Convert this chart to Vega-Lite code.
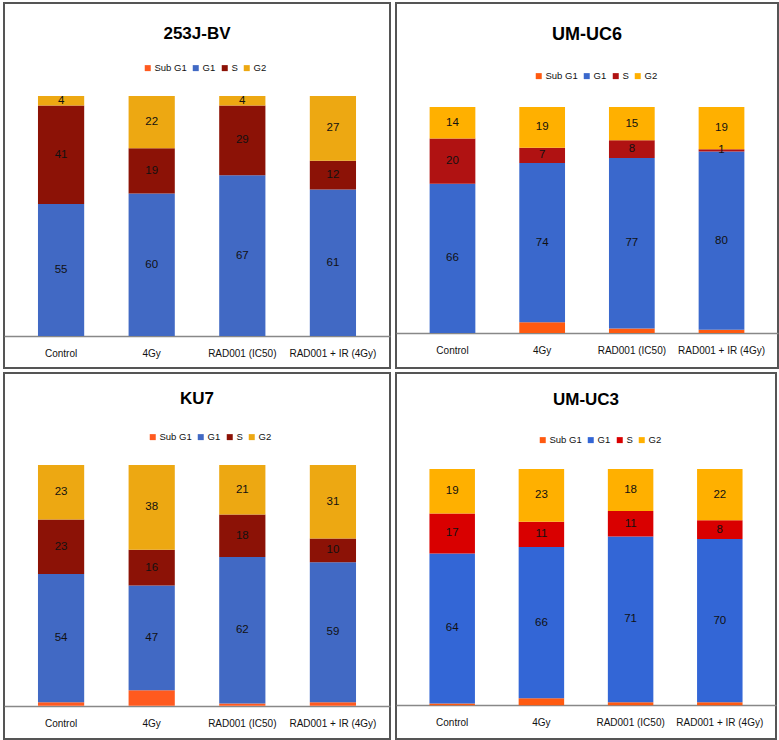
{
  "$schema": "https://vega.github.io/schema/vega-lite/v6.json",
  "background": "white",
  "padding": {"left": 3, "top": 2, "right": 0, "bottom": 0},
  "config": {
    "view": {"stroke": "#555555", "strokeWidth": 2},
    "font": "Liberation Sans, Arial, sans-serif",
    "axis": {"labelFont": "Liberation Sans, Arial, sans-serif"},
    "legend": {"labelFont": "Liberation Sans, Arial, sans-serif"}
  },
  "data": {"values": [
    {"panel": "253J-BV", "treatment": "Control", "phase": "Sub G1", "ord": 0, "value": 0},
    {"panel": "253J-BV", "treatment": "Control", "phase": "G1", "ord": 1, "value": 55},
    {"panel": "253J-BV", "treatment": "Control", "phase": "S", "ord": 2, "value": 41},
    {"panel": "253J-BV", "treatment": "Control", "phase": "G2", "ord": 3, "value": 4},
    {"panel": "253J-BV", "treatment": "4Gy", "phase": "Sub G1", "ord": 0, "value": 0},
    {"panel": "253J-BV", "treatment": "4Gy", "phase": "G1", "ord": 1, "value": 60},
    {"panel": "253J-BV", "treatment": "4Gy", "phase": "S", "ord": 2, "value": 19},
    {"panel": "253J-BV", "treatment": "4Gy", "phase": "G2", "ord": 3, "value": 22},
    {"panel": "253J-BV", "treatment": "RAD001 (IC50)", "phase": "Sub G1", "ord": 0, "value": 0},
    {"panel": "253J-BV", "treatment": "RAD001 (IC50)", "phase": "G1", "ord": 1, "value": 67},
    {"panel": "253J-BV", "treatment": "RAD001 (IC50)", "phase": "S", "ord": 2, "value": 29},
    {"panel": "253J-BV", "treatment": "RAD001 (IC50)", "phase": "G2", "ord": 3, "value": 4},
    {"panel": "253J-BV", "treatment": "RAD001 + IR (4Gy)", "phase": "Sub G1", "ord": 0, "value": 0},
    {"panel": "253J-BV", "treatment": "RAD001 + IR (4Gy)", "phase": "G1", "ord": 1, "value": 61},
    {"panel": "253J-BV", "treatment": "RAD001 + IR (4Gy)", "phase": "S", "ord": 2, "value": 12},
    {"panel": "253J-BV", "treatment": "RAD001 + IR (4Gy)", "phase": "G2", "ord": 3, "value": 27},

    {"panel": "UM-UC6", "treatment": "Control", "phase": "Sub G1", "ord": 0, "value": 0},
    {"panel": "UM-UC6", "treatment": "Control", "phase": "G1", "ord": 1, "value": 66},
    {"panel": "UM-UC6", "treatment": "Control", "phase": "S", "ord": 2, "value": 20},
    {"panel": "UM-UC6", "treatment": "Control", "phase": "G2", "ord": 3, "value": 14},
    {"panel": "UM-UC6", "treatment": "4Gy", "phase": "Sub G1", "ord": 0, "value": 5},
    {"panel": "UM-UC6", "treatment": "4Gy", "phase": "G1", "ord": 1, "value": 74},
    {"panel": "UM-UC6", "treatment": "4Gy", "phase": "S", "ord": 2, "value": 7},
    {"panel": "UM-UC6", "treatment": "4Gy", "phase": "G2", "ord": 3, "value": 19},
    {"panel": "UM-UC6", "treatment": "RAD001 (IC50)", "phase": "Sub G1", "ord": 0, "value": 2},
    {"panel": "UM-UC6", "treatment": "RAD001 (IC50)", "phase": "G1", "ord": 1, "value": 77},
    {"panel": "UM-UC6", "treatment": "RAD001 (IC50)", "phase": "S", "ord": 2, "value": 8},
    {"panel": "UM-UC6", "treatment": "RAD001 (IC50)", "phase": "G2", "ord": 3, "value": 15},
    {"panel": "UM-UC6", "treatment": "RAD001 + IR (4Gy)", "phase": "Sub G1", "ord": 0, "value": 1.5},
    {"panel": "UM-UC6", "treatment": "RAD001 + IR (4Gy)", "phase": "G1", "ord": 1, "value": 80},
    {"panel": "UM-UC6", "treatment": "RAD001 + IR (4Gy)", "phase": "S", "ord": 2, "value": 1},
    {"panel": "UM-UC6", "treatment": "RAD001 + IR (4Gy)", "phase": "G2", "ord": 3, "value": 19},

    {"panel": "KU7", "treatment": "Control", "phase": "Sub G1", "ord": 0, "value": 1.5},
    {"panel": "KU7", "treatment": "Control", "phase": "G1", "ord": 1, "value": 54},
    {"panel": "KU7", "treatment": "Control", "phase": "S", "ord": 2, "value": 23},
    {"panel": "KU7", "treatment": "Control", "phase": "G2", "ord": 3, "value": 23},
    {"panel": "KU7", "treatment": "4Gy", "phase": "Sub G1", "ord": 0, "value": 7},
    {"panel": "KU7", "treatment": "4Gy", "phase": "G1", "ord": 1, "value": 47},
    {"panel": "KU7", "treatment": "4Gy", "phase": "S", "ord": 2, "value": 16},
    {"panel": "KU7", "treatment": "4Gy", "phase": "G2", "ord": 3, "value": 38},
    {"panel": "KU7", "treatment": "RAD001 (IC50)", "phase": "Sub G1", "ord": 0, "value": 1},
    {"panel": "KU7", "treatment": "RAD001 (IC50)", "phase": "G1", "ord": 1, "value": 62},
    {"panel": "KU7", "treatment": "RAD001 (IC50)", "phase": "S", "ord": 2, "value": 18},
    {"panel": "KU7", "treatment": "RAD001 (IC50)", "phase": "G2", "ord": 3, "value": 21},
    {"panel": "KU7", "treatment": "RAD001 + IR (4Gy)", "phase": "Sub G1", "ord": 0, "value": 1.5},
    {"panel": "KU7", "treatment": "RAD001 + IR (4Gy)", "phase": "G1", "ord": 1, "value": 59},
    {"panel": "KU7", "treatment": "RAD001 + IR (4Gy)", "phase": "S", "ord": 2, "value": 10},
    {"panel": "KU7", "treatment": "RAD001 + IR (4Gy)", "phase": "G2", "ord": 3, "value": 31},

    {"panel": "UM-UC3", "treatment": "Control", "phase": "Sub G1", "ord": 0, "value": 0.7},
    {"panel": "UM-UC3", "treatment": "Control", "phase": "G1", "ord": 1, "value": 64},
    {"panel": "UM-UC3", "treatment": "Control", "phase": "S", "ord": 2, "value": 17},
    {"panel": "UM-UC3", "treatment": "Control", "phase": "G2", "ord": 3, "value": 19},
    {"panel": "UM-UC3", "treatment": "4Gy", "phase": "Sub G1", "ord": 0, "value": 3},
    {"panel": "UM-UC3", "treatment": "4Gy", "phase": "G1", "ord": 1, "value": 66},
    {"panel": "UM-UC3", "treatment": "4Gy", "phase": "S", "ord": 2, "value": 11},
    {"panel": "UM-UC3", "treatment": "4Gy", "phase": "G2", "ord": 3, "value": 23},
    {"panel": "UM-UC3", "treatment": "RAD001 (IC50)", "phase": "Sub G1", "ord": 0, "value": 1.3},
    {"panel": "UM-UC3", "treatment": "RAD001 (IC50)", "phase": "G1", "ord": 1, "value": 71},
    {"panel": "UM-UC3", "treatment": "RAD001 (IC50)", "phase": "S", "ord": 2, "value": 11},
    {"panel": "UM-UC3", "treatment": "RAD001 (IC50)", "phase": "G2", "ord": 3, "value": 18},
    {"panel": "UM-UC3", "treatment": "RAD001 + IR (4Gy)", "phase": "Sub G1", "ord": 0, "value": 1.3},
    {"panel": "UM-UC3", "treatment": "RAD001 + IR (4Gy)", "phase": "G1", "ord": 1, "value": 70},
    {"panel": "UM-UC3", "treatment": "RAD001 + IR (4Gy)", "phase": "S", "ord": 2, "value": 8},
    {"panel": "UM-UC3", "treatment": "RAD001 + IR (4Gy)", "phase": "G2", "ord": 3, "value": 22}
  ]},
  "resolve": {"scale": {"color": "independent", "x": "independent", "y": "independent"}, "legend": {"color": "independent"}},
  "spacing": 3,
  "vconcat": [
    {
      "spacing": 4,
      "resolve": {"scale": {"color": "independent", "x": "independent", "y": "independent"}, "legend": {"color": "independent"}},
      "hconcat": [
        {
          "width": 386, "height": 365,
          "title": {"text": "253J-BV", "fontSize": 17, "fontWeight": "bold", "color": "#000", "offset": -40, "frame": "group", "anchor": "middle"},
          "transform": [{"filter": "datum.panel === '253J-BV'"}],
          "encoding": {
            "x": {"field": "treatment", "type": "nominal", "sort": ["Control", "4Gy", "RAD001 (IC50)", "RAD001 + IR (4Gy)"],
                  "scale": {"paddingInner": 0.49, "paddingOuter": 0.375},
                  "axis": {"title": null, "labelAngle": 0, "offset": -32, "ticks": false, "tickSize": 0, "labelPadding": 12, "labelFontSize": 10, "labelColor": "#111", "domainColor": "#888", "domainWidth": 1.5}}
          },
          "layer": [
            {"mark": {"type": "bar"},
             "encoding": {
               "y": {"field": "value", "type": "quantitative", "stack": "normalize", "scale": {"domain": [-0.1333, 1.3875], "nice": false, "zero": false}, "axis": null},
               "order": {"field": "ord", "type": "quantitative"},
               "color": {"field": "phase", "type": "nominal", "sort": ["Sub G1", "G1", "S", "G2"],
                         "scale": {"domain": ["Sub G1", "G1", "S", "G2"], "range": ["#FF5A1F", "#4169C4", "#8C1206", "#EDA812"]},
                         "legend": {"orient": "none", "legendX": 139, "legendY": 60, "direction": "horizontal", "title": null, "symbolType": "square", "symbolSize": 36, "labelFontSize": 9.5, "labelColor": "#111", "columnPadding": 4, "labelOffset": 2, "padding": 0, "symbolStrokeWidth": 0}}
             }},
            {"mark": {"type": "text", "fontSize": 11.5, "color": "#111", "baseline": "middle", "align": "center"},
             "encoding": {
               "y": {"field": "value", "type": "quantitative", "stack": "normalize", "bandPosition": 0.5},
               "order": {"field": "ord", "type": "quantitative"},
               "detail": {"field": "phase", "type": "nominal"},
               "text": {"field": "value", "type": "quantitative"},
               "opacity": {"condition": {"test": "datum.phase === 'Sub G1'", "value": 0}, "value": 1}
             }}
          ]
        },
        {
          "width": 382, "height": 365,
          "title": {"text": "UM-UC6", "fontSize": 18, "fontWeight": "bold", "color": "#000", "offset": -41, "frame": "group", "anchor": "middle"},
          "transform": [{"filter": "datum.panel === 'UM-UC6'"}],
          "encoding": {
            "x": {"field": "treatment", "type": "nominal", "sort": ["Control", "4Gy", "RAD001 (IC50)", "RAD001 + IR (4Gy)"],
                  "scale": {"paddingInner": 0.49, "paddingOuter": 0.375},
                  "axis": {"title": null, "labelAngle": 0, "offset": -35, "ticks": false, "tickSize": 0, "labelPadding": 12, "labelFontSize": 10, "labelColor": "#111", "domainColor": "#888", "domainWidth": 1.5}}
          },
          "layer": [
            {"mark": {"type": "bar"},
             "encoding": {
               "y": {"field": "value", "type": "quantitative", "stack": "normalize", "scale": {"domain": [-0.155, 1.46], "nice": false, "zero": false}, "axis": null},
               "order": {"field": "ord", "type": "quantitative"},
               "color": {"field": "phase", "type": "nominal", "sort": ["Sub G1", "G1", "S", "G2"],
                         "scale": {"domain": ["Sub G1", "G1", "S", "G2"], "range": ["#FF5A10", "#3A68CC", "#B01212", "#FFB000"]},
                         "legend": {"orient": "none", "legendX": 138, "legendY": 68, "direction": "horizontal", "title": null, "symbolType": "square", "symbolSize": 36, "labelFontSize": 9.5, "labelColor": "#111", "columnPadding": 4, "labelOffset": 2, "padding": 0, "symbolStrokeWidth": 0}}
             }},
            {"mark": {"type": "text", "fontSize": 11.5, "color": "#111", "baseline": "middle", "align": "center"},
             "encoding": {
               "y": {"field": "value", "type": "quantitative", "stack": "normalize", "bandPosition": 0.5},
               "order": {"field": "ord", "type": "quantitative"},
               "detail": {"field": "phase", "type": "nominal"},
               "text": {"field": "value", "type": "quantitative"},
               "opacity": {"condition": {"test": "datum.phase === 'Sub G1'", "value": 0}, "value": 1}
             }}
          ]
        }
      ]
    },
    {
      "spacing": 4,
      "resolve": {"scale": {"color": "independent", "x": "independent", "y": "independent"}, "legend": {"color": "independent"}},
      "hconcat": [
        {
          "width": 386, "height": 366,
          "title": {"text": "KU7", "fontSize": 17, "fontWeight": "bold", "color": "#000", "offset": -35, "frame": "group", "anchor": "middle"},
          "transform": [{"filter": "datum.panel === 'KU7'"}],
          "encoding": {
            "x": {"field": "treatment", "type": "nominal", "sort": ["Control", "4Gy", "RAD001 (IC50)", "RAD001 + IR (4Gy)"],
                  "scale": {"paddingInner": 0.49, "paddingOuter": 0.375},
                  "axis": {"title": null, "labelAngle": 0, "offset": -33, "ticks": false, "tickSize": 0, "labelPadding": 12, "labelFontSize": 10, "labelColor": "#111", "domainColor": "#888", "domainWidth": 1.5}}
          },
          "layer": [
            {"mark": {"type": "bar"},
             "encoding": {
               "y": {"field": "value", "type": "quantitative", "stack": "normalize", "scale": {"domain": [-0.138, 1.382], "nice": false, "zero": false}, "axis": null},
               "order": {"field": "ord", "type": "quantitative"},
               "color": {"field": "phase", "type": "nominal", "sort": ["Sub G1", "G1", "S", "G2"],
                         "scale": {"domain": ["Sub G1", "G1", "S", "G2"], "range": ["#FF5A1F", "#4169C4", "#8C1206", "#EDA812"]},
                         "legend": {"orient": "none", "legendX": 144, "legendY": 59, "direction": "horizontal", "title": null, "symbolType": "square", "symbolSize": 36, "labelFontSize": 9.5, "labelColor": "#111", "columnPadding": 4, "labelOffset": 2, "padding": 0, "symbolStrokeWidth": 0}}
             }},
            {"mark": {"type": "text", "fontSize": 11.5, "color": "#111", "baseline": "middle", "align": "center"},
             "encoding": {
               "y": {"field": "value", "type": "quantitative", "stack": "normalize", "bandPosition": 0.5},
               "order": {"field": "ord", "type": "quantitative"},
               "detail": {"field": "phase", "type": "nominal"},
               "text": {"field": "value", "type": "quantitative"},
               "opacity": {"condition": {"test": "datum.phase === 'Sub G1'", "value": 0}, "value": 1}
             }}
          ]
        },
        {
          "width": 380, "height": 366,
          "title": {"text": "UM-UC3", "fontSize": 17, "fontWeight": "bold", "color": "#000", "offset": -36, "frame": "group", "anchor": "middle"},
          "transform": [{"filter": "datum.panel === 'UM-UC3'"}],
          "encoding": {
            "x": {"field": "treatment", "type": "nominal", "sort": ["Control", "4Gy", "RAD001 (IC50)", "RAD001 + IR (4Gy)"],
                  "scale": {"paddingInner": 0.49, "paddingOuter": 0.375},
                  "axis": {"title": null, "labelAngle": 0, "offset": -34, "ticks": false, "tickSize": 0, "labelPadding": 12, "labelFontSize": 10, "labelColor": "#111", "domainColor": "#888", "domainWidth": 1.5}}
          },
          "layer": [
            {"mark": {"type": "bar"},
             "encoding": {
               "y": {"field": "value", "type": "quantitative", "stack": "normalize", "scale": {"domain": [-0.143, 1.406], "nice": false, "zero": false}, "axis": null},
               "order": {"field": "ord", "type": "quantitative"},
               "color": {"field": "phase", "type": "nominal", "sort": ["Sub G1", "G1", "S", "G2"],
                         "scale": {"domain": ["Sub G1", "G1", "S", "G2"], "range": ["#FF5A10", "#3366D6", "#D90000", "#FFB000"]},
                         "legend": {"orient": "none", "legendX": 142, "legendY": 62, "direction": "horizontal", "title": null, "symbolType": "square", "symbolSize": 36, "labelFontSize": 9.5, "labelColor": "#111", "columnPadding": 4, "labelOffset": 2, "padding": 0, "symbolStrokeWidth": 0}}
             }},
            {"mark": {"type": "text", "fontSize": 11.5, "color": "#111", "baseline": "middle", "align": "center"},
             "encoding": {
               "y": {"field": "value", "type": "quantitative", "stack": "normalize", "bandPosition": 0.5},
               "order": {"field": "ord", "type": "quantitative"},
               "detail": {"field": "phase", "type": "nominal"},
               "text": {"field": "value", "type": "quantitative"},
               "opacity": {"condition": {"test": "datum.phase === 'Sub G1'", "value": 0}, "value": 1}
             }}
          ]
        }
      ]
    }
  ]
}
